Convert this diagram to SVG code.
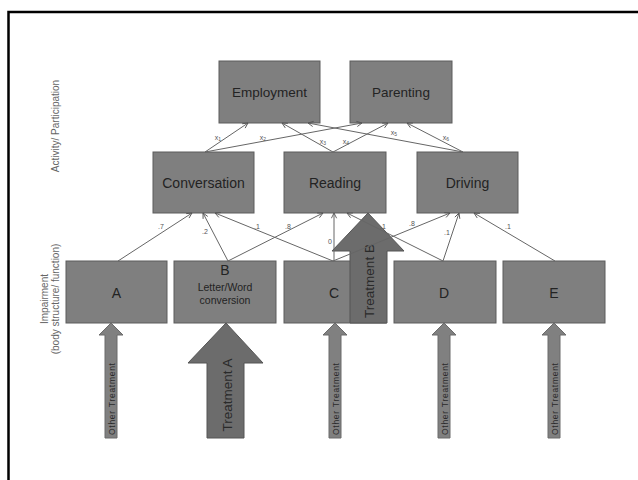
<svg xmlns="http://www.w3.org/2000/svg" width="638" height="480" viewBox="0 0 638 480">
<defs>
<style>
.box{fill:#7f7f7f;stroke:#5c5c5c;stroke-width:1}
.t{font-family:"Liberation Sans",Arial,sans-serif;fill:#232323;text-anchor:middle;dominant-baseline:central}
.lbl{font-family:"Liberation Sans",Arial,sans-serif;fill:#555;font-size:7px;text-anchor:middle;dominant-baseline:central}
.side{font-family:"Liberation Sans",Arial,sans-serif;fill:#666;font-size:10px;text-anchor:middle;dominant-baseline:central}
.edge{stroke:#666;stroke-width:1;fill:none;marker-end:url(#ah)}
.oarrow{fill:#808080;stroke:#6a6a6a;stroke-width:1}
.barrow{fill:#6c6c6c;stroke:#555;stroke-width:1}
.ot{font-family:"Liberation Sans",Arial,sans-serif;fill:#2a2a2a;font-size:8.5px;text-anchor:middle;dominant-baseline:central}
.tt{font-family:"Liberation Sans",Arial,sans-serif;fill:#2a2a2a;font-size:13.5px;text-anchor:middle;dominant-baseline:central}
</style>
<marker id="ah" viewBox="0 0 8 8" refX="7" refY="4" markerWidth="7" markerHeight="7" orient="auto" markerUnits="userSpaceOnUse">
<path d="M1,1 L7,4 L1,7" fill="none" stroke="#555" stroke-width="1"/>
</marker>
</defs>
<rect x="0" y="0" width="638" height="480" fill="#fff"/>
<rect x="8.5" y="12" width="660" height="500" fill="none" stroke="#000" stroke-width="2.5"/>

<text class="side" transform="translate(55,126) rotate(-90)">Activity/ Participation</text>
<text class="side" transform="translate(44,299) rotate(-90)">Impairment</text>
<text class="side" transform="translate(55,299) rotate(-90)">(body structure/ function)</text>

<g id="employment"><rect class="box" x="219" y="61" width="101" height="62"/><text class="t" x="269.5" y="92" font-size="13.5">Employment</text></g>
<g id="parenting"><rect class="box" x="350" y="61" width="102" height="62"/><text class="t" x="401" y="92" font-size="13.5">Parenting</text></g>
<g id="conversation"><rect class="box" x="153" y="152" width="101" height="61"/><text class="t" x="203.5" y="183" font-size="14">Conversation</text></g>
<g id="reading"><rect class="box" x="284" y="152" width="102" height="61"/><text class="t" x="335" y="183" font-size="14">Reading</text></g>
<g id="driving"><rect class="box" x="417" y="152" width="101" height="61"/><text class="t" x="467.5" y="183" font-size="14">Driving</text></g>

<g id="A"><rect class="box" x="66" y="261" width="101" height="62"/><text class="t" x="116.5" y="293" font-size="14">A</text></g>
<g id="B"><rect class="box" x="174" y="261" width="102" height="62"/><text class="t" x="225" y="270" font-size="14">B</text><text class="t" x="225" y="287" font-size="10.5">Letter/Word</text><text class="t" x="225" y="300" font-size="10.5">conversion</text></g>
<g id="C"><rect class="box" x="284" y="261" width="102" height="62"/><text class="t" x="334" y="293" font-size="14">C</text></g>
<g id="D"><rect class="box" x="394" y="261" width="102" height="62"/><text class="t" x="444" y="293" font-size="14">D</text></g>
<g id="E"><rect class="box" x="503" y="261" width="102" height="62"/><text class="t" x="554" y="293" font-size="14">E</text></g>

<g id="treatmentB"><path class="barrow" d="M350,323 L350,251 L332,251 L368,213 L404,251 L387,251 L387,323 Z"/><text class="tt" transform="translate(369,281) rotate(-90)">Treatment B</text></g>

<g id="connectors">
<line class="edge" x1="205" y1="152" x2="248" y2="123"/>
<line class="edge" x1="205" y1="152" x2="362" y2="123"/>
<line class="edge" x1="333" y1="152" x2="282" y2="123"/>
<line class="edge" x1="333" y1="152" x2="388" y2="123"/>
<line class="edge" x1="463" y1="152" x2="308" y2="123"/>
<line class="edge" x1="463" y1="152" x2="407" y2="123"/>
<line class="edge" x1="118" y1="261" x2="192" y2="213"/>
<line class="edge" x1="228" y1="261" x2="203" y2="213"/>
<line class="edge" x1="228" y1="261" x2="323" y2="213"/>
<line class="edge" x1="333" y1="261" x2="215" y2="213"/>
<line class="edge" x1="334" y1="261" x2="334" y2="213"/>
<line class="edge" x1="333" y1="261" x2="450" y2="213"/>
<line class="edge" x1="443" y1="261" x2="347" y2="213"/>
<line class="edge" x1="443" y1="261" x2="459" y2="213"/>
<line class="edge" x1="555" y1="261" x2="474" y2="213"/>
<text class="lbl" x="218" y="137">x<tspan font-size="5" dy="1.5">1</tspan></text>
<text class="lbl" x="263" y="137">x<tspan font-size="5" dy="1.5">2</tspan></text>
<text class="lbl" x="323" y="141">x<tspan font-size="5" dy="1.5">3</tspan></text>
<text class="lbl" x="346" y="141">x<tspan font-size="5" dy="1.5">4</tspan></text>
<text class="lbl" x="394" y="132">x<tspan font-size="5" dy="1.5">5</tspan></text>
<text class="lbl" x="446" y="137">x<tspan font-size="5" dy="1.5">6</tspan></text>
<text class="lbl" x="161" y="226">.7</text>
<text class="lbl" x="205" y="231">.2</text>
<text class="lbl" x="288" y="226">.8</text>
<text class="lbl" x="257" y="226">.1</text>
<text class="lbl" x="330" y="241">0</text>
<text class="lbl" x="412" y="223">.8</text>
<text class="lbl" x="383" y="226">.1</text>
<text class="lbl" x="447" y="232">.1</text>
<text class="lbl" x="508" y="226">.1</text>
</g>

<g id="treatmentA"><path class="barrow" d="M207,438 L207,363 L188,363 L226,323 L263,363 L244,363 L244,438 Z"/><text class="tt" transform="translate(227,395) rotate(-90)">Treatment A</text></g>

<g id="otherA"><path class="oarrow" d="M105,438 L105,335 L99,335 L111,323 L123,335 L117,335 L117,438 Z"/><text class="ot" transform="translate(111.5,399) rotate(-90)" textLength="72" lengthAdjust="spacing">Other Treatment</text></g>
<g id="otherC"><path class="oarrow" d="M329,438 L329,335 L323,335 L335,323 L347,335 L341,335 L341,438 Z"/><text class="ot" transform="translate(335.5,399) rotate(-90)" textLength="72" lengthAdjust="spacing">Other Treatment</text></g>
<g id="otherD"><path class="oarrow" d="M438,438 L438,335 L432,335 L444,323 L456,335 L450,335 L450,438 Z"/><text class="ot" transform="translate(444.5,399) rotate(-90)" textLength="72" lengthAdjust="spacing">Other Treatment</text></g>
<g id="otherE"><path class="oarrow" d="M548,438 L548,335 L542,335 L554,323 L566,335 L560,335 L560,438 Z"/><text class="ot" transform="translate(554.5,399) rotate(-90)" textLength="72" lengthAdjust="spacing">Other Treatment</text></g>
</svg>
